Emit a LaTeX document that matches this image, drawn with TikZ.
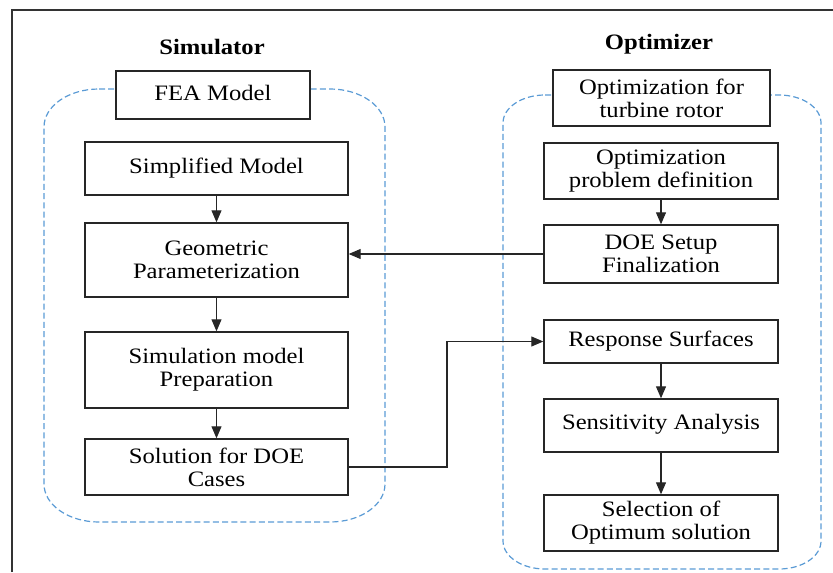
\documentclass[tikz,border=0pt]{standalone}
\usepackage{fontspec}
\setmainfont{Liberation Serif}[FakeStretch=1.12]
\usetikzlibrary{arrows.meta}
\definecolor{dashblue}{HTML}{5B9BD5}
\definecolor{framegray}{HTML}{333333}
\begin{document}
\begin{tikzpicture}[x=0.5pt,y=-0.5pt,
  txt/.style={font=\fontsize{11}{11.5}\selectfont},
  title/.style={font=\fontsize{11}{11.5}\selectfont\bfseries},
  box/.style={draw=black!85, line width=0.7pt, fill=white, align=center, inner sep=0pt,
    font=\fontsize{11}{11.5}\selectfont},
  lbox/.style={box, minimum width=131.5pt},
  rbox/.style={box, minimum width=117pt},
  grp/.style={draw=dashblue, line width=0.6pt, dash pattern=on 3pt off 1.6pt},
  arr/.style={-{Triangle[length=6pt,width=5pt]}, line width=0.55pt, black!85},
  framel/.style={draw=framegray, line width=1pt}]
\useasboundingbox (0,0) rectangle (833,572);
% outer frame (left and top)
\draw[framel] (12,572) -- (12,10) -- (833,10);
% group outlines
\draw[grp] (99,89) -- (330,89) .. controls (360.4,89) and (385,106) .. (385,127)
  -- (385,484) .. controls (385,505) and (360.4,522) .. (330,522)
  -- (99,522) .. controls (68.6,522) and (44,505) .. (44,484)
  -- (44,127) .. controls (44,106) and (68.6,89) .. (99,89) -- cycle;
\draw[grp] (545,95) -- (779,95) .. controls (802.2,95) and (821,107.5) .. (821,123)
  -- (821,541) .. controls (821,556.5) and (802.2,569) .. (779,569)
  -- (545,569) .. controls (521.8,569) and (503,556.5) .. (503,541)
  -- (503,123) .. controls (503,107.5) and (521.8,95) .. (545,95) -- cycle;
% titles
\node[title] (tsim) at (212,47) {Simulator};
\node[title] (topt) at (659,44) {Optimizer};
% left column
\node[box, minimum width=97pt, minimum height=24pt] (fea) at (213,95) {\raisebox{2.5pt}{FEA Model}};
\node[lbox, minimum height=26.5pt] (simp) at (216.5,168.5) {\raisebox{2.5pt}{Simplified Model}};
\node[lbox, minimum height=37pt] (geo) at (216.5,260) {Geometric\\Parameterization};
\node[lbox, minimum height=38pt] (prep) at (216.5,370) {Simulation model\\Preparation};
\node[lbox, minimum height=28pt] (sol) at (216.5,467) {Solution for DOE\\Cases};
% right column
\node[box, minimum width=108.5pt, minimum height=28pt] (opt) at (661.5,98) {Optimization for\\turbine rotor};
\node[rbox, minimum height=28pt] (def) at (661,171) {Optimization\\problem definition};
\node[rbox, minimum height=29pt] (doe) at (661,254) {DOE Setup\\Finalization};
\node[rbox, minimum height=21.5pt] (resp) at (661,341.5) {\raisebox{1.5pt}{Response Surfaces}};
\node[rbox, minimum height=26.5pt] (sens) at (661,425.5) {\raisebox{3.75pt}{Sensitivity Analysis}};
\node[rbox, minimum height=28pt] (sel) at (661,523) {Selection of\\Optimum solution};
% connectors
\draw[arr] (simp) -- (geo);
\draw[arr] (geo) -- (prep);
\draw[arr] (prep) -- (sol);
\draw[arr] (def) -- (doe);
\draw[arr] (resp) -- (sens);
\draw[arr] (sens) -- (sel);
\draw[arr] (doe.west) -- (doe.west -| geo.east);
\coordinate (bend) at (447,467);
\draw[arr] (sol.east) -- (bend) |- (resp.west);
\end{tikzpicture}
\end{document}
